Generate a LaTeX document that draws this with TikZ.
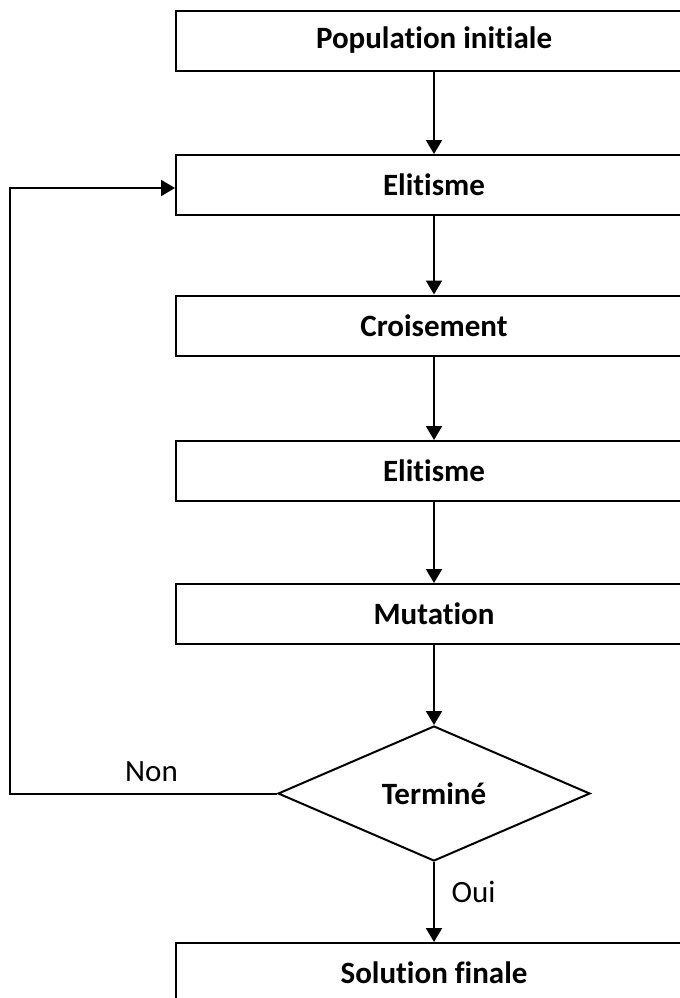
\documentclass[tikz,border=0pt]{standalone}
\usepackage{fontspec}
\setmainfont{Carlito}[Ligatures=NoCommon]
\usepackage{tikz}
\usetikzlibrary{arrows.meta,shapes.geometric,positioning}

\newcommand{\taille}{\fontsize{15.5}{18}\selectfont}
\tikzset{
  etape/.style={draw,line width=1pt,rectangle,minimum width=258pt,minimum height=30pt,inner sep=0pt,font=\taille\bfseries},
  choix/.style={draw,line width=1pt,diamond,minimum width=156pt,minimum height=67.5pt,inner sep=0pt,font=\taille\bfseries},
  fleche/.style={line width=1pt,-{Triangle[length=7pt,width=8pt]}}
}

\begin{document}
\begin{tikzpicture}[x=0.5pt,y=-0.5pt,font=\taille]
			\path[use as bounding box,clip] (0,0) rectangle (680,998);
			% Les étapes
			\node[etape] (pop) at (434,40.5) {Population initiale};
			\node[etape] (elit1) at (434,185) {Elitisme};
			\node[etape] (crois) at (434,325.5) {Croisement};
			\node[etape] (elit2) at (434,471) {Elitisme};
			\node[etape] (mut) at (434,614) {Mutation};
			\node[choix] (test) at (434,793.5) {Terminé};
			\node[etape] (fin) at (434,973) {Solution finale};
			% Les flèches
			\foreach \a/\b in {pop/elit1,elit1/crois,crois/elit2,elit2/mut,mut/test}
			\draw[fleche] (\a) -- (\b);
			\draw[fleche] (test) -- node[right=5pt,pos=0.38] {Oui} (fin);
			% Retour
			\coordinate (retour) at (10,188);
			\draw[fleche] (test.west) -- node[above=2pt,pos=0.47] {Non} (test.west -| retour) -- (retour) -- (elit1.west |- retour);
		\end{tikzpicture}
\end{document}
